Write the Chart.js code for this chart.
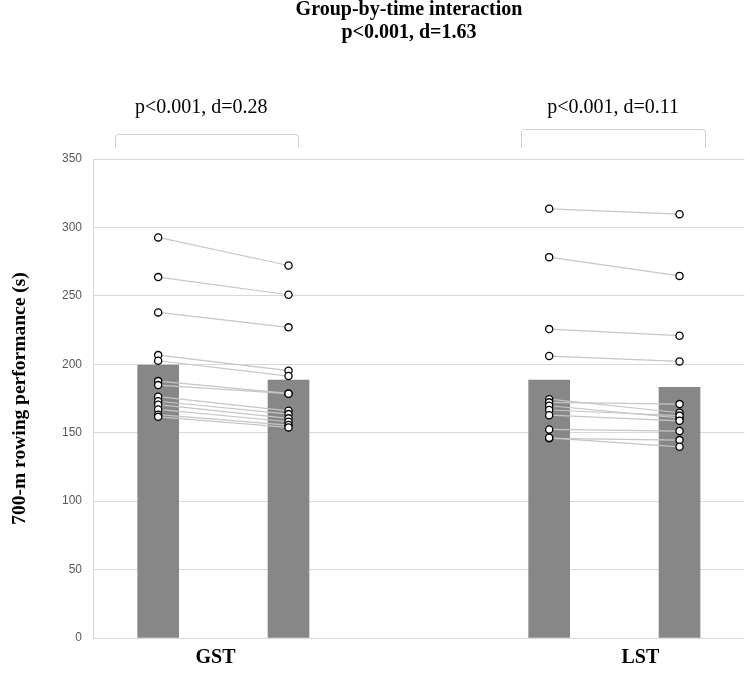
<!DOCTYPE html>
<html><head><meta charset="utf-8">
<script src="https://cdn.jsdelivr.net/npm/chart.js@4.4.1/dist/chart.umd.min.js"></script>
<style>html,body{margin:0;padding:0;background:#fff;}</style>
</head><body>
<canvas id="c" width="750" height="690"></canvas>
<script>
// ---- data ----
const groups = ['GST', 'LST'];
const groupLabelPos = [1.44, 4.70];
const barPositions = [1, 2, 4, 5];
const barMeans = [199.4, 188.5, 188.5, 183.1];
const gstPre  = [292.7, 263.7, 237.9, 206.7, 202.6, 187.7, 184.8, 176.3, 173.0, 170.5, 167.0, 163.2, 161.6];
const gstPost = [272.2, 250.8, 227.0, 195.3, 191.4, 178.7, 178.5, 166.0, 163.6, 160.5, 158.0, 155.6, 153.9];
const lstPre  = [313.6, 278.3, 225.7, 206.0, 174.5, 172.2, 169.7, 166.6, 162.8, 152.4, 145.9, 146.3];
const lstPost = [309.7, 264.6, 220.9, 202.1, 164.6, 170.9, 160.8, 162.5, 158.7, 151.2, 144.6, 139.7];
const yTicks = [0, 50, 100, 150, 200, 250, 300, 350];
const titleLines = ['Group-by-time interaction', 'p<0.001, d=1.63'];
const groupStats = ['p<0.001, d=0.28', 'p<0.001, d=0.11'];
const yTitle = '700-m rowing performance (s)';

// ---- datasets ----
const SERIF = '"Liberation Serif", "Times New Roman", serif';
const datasets = [];
datasets.push({
  type: 'bar', label: 'mean',
  data: barPositions.map((x, i) => ({x: x, y: barMeans[i]})),
  backgroundColor: '#878787', borderWidth: 0, barThickness: 41, order: 3
});
function addPairs(pre, post, xa, xb) {
  pre.forEach((v, i) => {
    datasets.push({
      type: 'line', data: [{x: xa, y: v}, {x: xb, y: post[i]}],
      borderColor: '#c6c6c6', borderWidth: 1.2, pointRadius: 0, fill: false, order: 2
    });
  });
}
addPairs(gstPre, gstPost, barPositions[0], barPositions[1]);
addPairs(lstPre, lstPost, barPositions[2], barPositions[3]);
const pts = [];
gstPre.forEach(v => pts.push({x: barPositions[0], y: v}));
gstPost.forEach(v => pts.push({x: barPositions[1], y: v}));
lstPre.forEach(v => pts.push({x: barPositions[2], y: v}));
lstPost.forEach(v => pts.push({x: barPositions[3], y: v}));
datasets.push({
  type: 'scatter', data: pts, pointRadius: 3.6, pointBorderWidth: 1.3,
  pointBackgroundColor: '#ffffff', pointBorderColor: '#000000', showLine: false, order: 1
});

const annot = {
  id: 'annot',
  afterDraw(chart) {
    const ctx = chart.ctx, xs = chart.scales.x;
    ctx.save();
    ctx.fillStyle = '#000';
    ctx.textAlign = 'center';
    ctx.textBaseline = 'alphabetic';
    ctx.font = 'bold 20px ' + SERIF;
    ctx.fillText(titleLines[0], 409, 15);
    ctx.fillText(titleLines[1], 409, 38);
    ctx.font = '20px ' + SERIF;
    const statX = [1.33, 4.49];
    groupStats.forEach((t, i) => ctx.fillText(t, xs.getPixelForValue(statX[i]), 113));
    const brackets = [[0.668, 2.07, 134], [3.785, 5.195, 129]];
    ctx.strokeStyle = '#d0d0d0';
    ctx.lineWidth = 1;
    brackets.forEach(b => {
      const l = Math.round(xs.getPixelForValue(b[0])) + 0.5;
      const r = Math.round(xs.getPixelForValue(b[1])) + 0.5;
      const t = b[2] + 0.5, bot = 148;
      ctx.beginPath();
      ctx.moveTo(l, bot);
      ctx.arcTo(l, t, l + 4, t, 3);
      ctx.arcTo(r, t, r, t + 4, 3);
      ctx.lineTo(r, bot);
      ctx.stroke();
    });
    ctx.restore();
  }
};

new Chart(document.getElementById('c'), {
  type: 'scatter',
  data: {datasets: datasets},
  options: {
    responsive: false, animation: false, devicePixelRatio: 1,
    layout: {padding: {top: 159, right: 0, left: 0, bottom: 0}},
    plugins: {legend: {display: false}, tooltip: {enabled: false}, title: {display: false}},
    scales: {
      x: {
        type: 'linear', min: 0.5, max: 5.5, offset: false,
        grid: {display: false},
        border: {display: false},
        afterBuildTicks: s => { s.ticks = groupLabelPos.map(v => ({value: v})); },
        afterFit: s => { s.height = 52; },
        ticks: {
          autoSkip: false, maxRotation: 0, padding: 0,
          font: {family: SERIF, size: 20, weight: 'bold'}, color: '#000',
          callback: (v, i) => groups[i]
        }
      },
      y: {
        min: 0, max: 350,
        afterBuildTicks: s => { s.ticks = yTicks.map(v => ({value: v})); },
        afterFit: s => { s.width = 93; },
        grid: {color: '#d9d9d9', lineWidth: 1, drawTicks: false},
        border: {display: true, color: '#d9d9d9'},
        ticks: {padding: 11, color: '#595959', font: {family: '"Liberation Sans", Arial, sans-serif', size: 12}},
        title: {display: true, text: yTitle, color: '#000', padding: {top: 8, bottom: 0},
                font: {family: SERIF, size: 19.5, weight: 'bold'}}
      }
    }
  },
  plugins: [annot]
});
</script>
</body></html>
